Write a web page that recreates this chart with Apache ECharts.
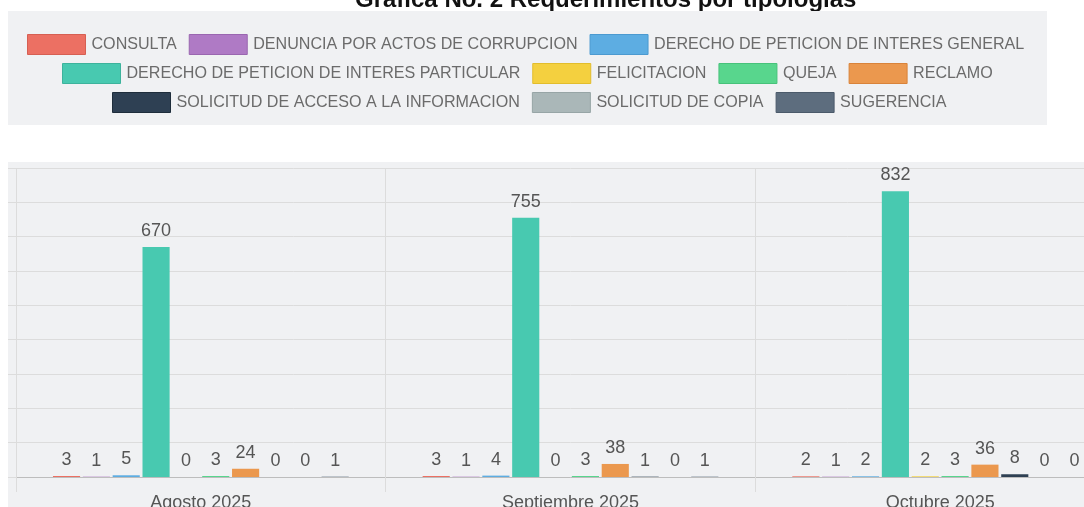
<!DOCTYPE html>
<html><head><meta charset="utf-8">
<script src="https://cdn.jsdelivr.net/npm/echarts@6/dist/echarts.min.js"></script>
<style>html,body{margin:0;padding:0;background:#fff;overflow:hidden;width:1084px;height:507px}#c{width:1125px;height:507px}</style>
</head><body><div id="c"></div>
<script>
// ---- data ----
const titleText = 'Gráfica No. 2 Requerimientos por tipologías';
const categories = ['Agosto 2025', 'Septiembre 2025', 'Octubre 2025'];
const seriesNames = [
  'CONSULTA', 'DENUNCIA POR ACTOS DE CORRUPCION', 'DERECHO DE PETICION DE INTERES GENERAL',
  'DERECHO DE PETICION DE INTERES PARTICULAR', 'FELICITACION', 'QUEJA', 'RECLAMO',
  'SOLICITUD DE ACCESO A LA INFORMACION', 'SOLICITUD DE COPIA', 'SUGERENCIA'
];
const consulta = [3, 3, 2];
const denuncia = [1, 1, 1];
const peticionGeneral = [5, 4, 2];
const peticionParticular = [670, 755, 832];
const felicitacion = [0, 0, 2];
const queja = [3, 3, 3];
const reclamo = [24, 38, 36];
const solicitudAcceso = [0, 1, 8];
const solicitudCopia = [0, 0, 0];
const sugerencia = [1, 1, 0];
const yMin = 0, yMax = 900, yStep = 100;
const legendRows = [[0, 1, 2], [3, 4, 5, 6], [7, 8, 9]];

// ---- styles ----
const colors = ['#ec7063', '#af7ac5', '#5dade2', '#48c9b0', '#f4d03f', '#58d68d', '#eb984e', '#2e4053', '#aab7b8', '#5d6d7e'];
const borders = ['#d65f52', '#9a66b0', '#4c9ad0', '#3db39c', '#e2bd2c', '#47c27a', '#d9833a', '#1e2d3b', '#97a5a6', '#4b5a6a'];
const FONT = '"Liberation Sans", Arial, Helvetica, sans-serif';
const allData = [consulta, denuncia, peticionGeneral, peticionParticular, felicitacion, queja, reclamo, solicitudAcceso, solicitudCopia, sugerencia];
const legendLefts = [27, 62, 112];
const legendTops = [34, 63, 92];

const chart = echarts.init(document.getElementById('c'), null, {renderer: 'canvas'});
const option = {
  animation: false,
  color: colors,
  textStyle: {fontFamily: FONT},
  title: {
    text: titleText, left: 355, top: -12, padding: 0,
    textStyle: {fontSize: 24, fontWeight: 'bold', color: '#111', fontFamily: FONT}
  },
  graphic: [
    {type: 'rect', left: 8, top: 11, shape: {width: 1039, height: 114}, style: {fill: '#f0f1f3'}, z: 50, silent: true},
    {type: 'rect', left: 8, top: 162, shape: {width: 1200, height: 360}, style: {fill: '#f0f1f3'}, z: -10, silent: true}
  ],
  legend: legendRows.map((row, i) => ({
    left: legendLefts[i], top: legendTops[i], padding: 0, z: 60,
    orient: 'horizontal',
    itemWidth: 58, itemHeight: 20, itemGap: 12,
    icon: 'rect',
    textStyle: {fontSize: 16.1, color: '#6b6b6b', fontFamily: FONT, padding: [0, 0, 0, 1]},
    data: row.map(k => ({name: seriesNames[k], itemStyle: {borderColor: borders[k], borderWidth: 1}}))
  })),
  grid: {left: 16, right: 0, top: 168, bottom: 30, containLabel: false, outerBoundsMode: 'none'},
  xAxis: {
    type: 'category', data: categories, boundaryGap: true,
    axisLine: {show: true, lineStyle: {color: '#bdbdbd', width: 1}},
    axisTick: {show: true, length: 15, lineStyle: {color: '#dcdcdc'}},
    splitLine: {show: true, lineStyle: {color: '#dcdcdc'}},
    axisLabel: {fontSize: 18, color: '#555', margin: 17, fontFamily: FONT}
  },
  yAxis: {
    type: 'value', min: yMin, max: yMax, interval: yStep,
    axisLine: {show: false},
    axisTick: {show: true, length: 8, lineStyle: {color: '#dcdcdc'}},
    axisLabel: {show: false},
    splitLine: {show: true, lineStyle: {color: '#dcdcdc'}}
  },
  series: seriesNames.map((n, k) => ({
    name: n, type: 'bar', data: allData[k],
    barGap: '10%', barCategoryGap: '20%',
    itemStyle: {color: colors[k]},
    label: {show: true, position: 'top', distance: 7, fontSize: 18, color: '#555', fontFamily: FONT}
  }))
};
chart.setOption(option);
</script>
</body></html>
